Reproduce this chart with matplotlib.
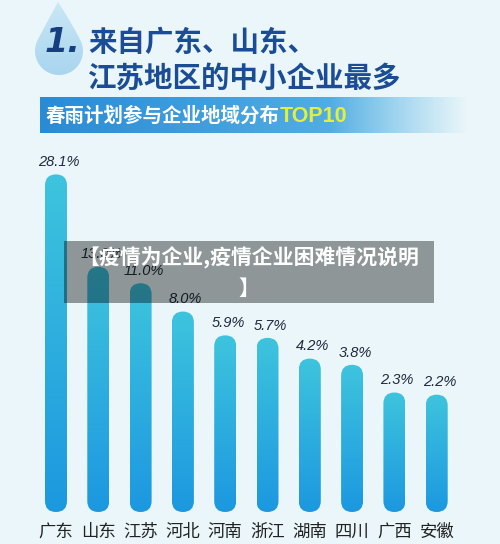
import numpy as np
import matplotlib
matplotlib.use("Agg")
import matplotlib.pyplot as plt
from matplotlib.patches import FancyBboxPatch, Rectangle, PathPatch
from matplotlib.path import Path
from matplotlib.colors import to_rgb

# ---------------- data ----------------
provinces = ["广东", "山东", "江苏", "河北", "河南", "浙江", "湖南", "四川", "广西", "安徽"]
shares = [28.1, 13.0, 11.0, 8.0, 5.9, 5.7, 4.2, 3.8, 2.3, 2.2]
value_labels = ["28.1%", "13.0%", "11.0%", "8.0%", "5.9%", "5.7%", "4.2%", "3.8%", "2.3%", "2.2%"]
title_number = "1."
title_lines = ["来自广东、山东、", "江苏地区的中小企业最多"]
subtitle = "春雨计划参与企业地域分布"
subtitle_tag = "TOP10"
overlay_text = "【疫情为企业,疫情企业困难情况说明\n】"

CJK = ["Noto Sans CJK SC", "DejaVu Sans"]
W, H = 500, 544
BG = "#eaf6f9"

fig = plt.figure(figsize=(W / 100, H / 100), dpi=100)
fig.patch.set_facecolor(BG)

# pixel canvas (1 unit = 1 px, y downward)
pax = fig.add_axes([0, 0, 1, 1])
pax.set_zorder(0)
pax.axis("off")

def lerp_colors(c1, c2, n):
    a, b = np.array(to_rgb(c1)), np.array(to_rgb(c2))
    t = np.linspace(0, 1, n)[:, None]
    return a * (1 - t) + b * t

# ---- water drop ----
cx, cy, r = 59, 51, 24
apex = (58, 2)
ang = np.deg2rad(np.linspace(-29, 209, 80))  # arc around bottom (y down)
arc = np.column_stack([cx + r * np.cos(ang), cy + r * np.sin(ang)])
def qbez(p0, p1, p2, n=30):
    t = np.linspace(0, 1, n)[:, None]
    return (1 - t) ** 2 * np.array(p0) + 2 * (1 - t) * t * np.array(p1) + t ** 2 * np.array(p2)
side_r = qbez(apex, (71, 22), arc[0])
side_l = qbez(arc[-1], (47, 22), apex)
drop_pts = np.vstack([side_r, arc, side_l])
drop = PathPatch(Path(drop_pts), facecolor="none", edgecolor="none")
pax.add_patch(drop)
grad = lerp_colors("#cbe8f6", "#a6d4ee", 64)[:, None, :]
im = pax.imshow(grad, extent=[30, 90, 80, 0], aspect="auto", zorder=1)
im.set_clip_path(drop)

pax.text(62, 43, title_number, fontsize=24, fontweight="bold", fontstyle="italic",
         color="#163f82", ha="center", va="center", family="DejaVu Sans", zorder=3)

# ---- title ----
pax.text(88, 43, title_lines[0], fontsize=20.5, fontweight="bold", color="#1b4d96",
         ha="left", va="center", family=CJK, zorder=3)
pax.text(88, 79, title_lines[1], fontsize=20.5, fontweight="bold", color="#1b4d96",
         ha="left", va="center", family=CJK, zorder=3)

# ---- banner ----
nx = 300
cols = lerp_colors("#2a8bd5", "#63bdea", nx)
xs = np.linspace(40, 468, nx)
alpha = np.clip((468 - xs) / (468 - 330), 0, 1)
banner = np.dstack([cols[None, :, 0], cols[None, :, 1], cols[None, :, 2], alpha[None, :]])
pax.imshow(banner, extent=[40, 468, 133, 97], aspect="auto", zorder=1)
t1 = pax.text(46, 116, subtitle, fontsize=14, fontweight="bold", color="white",
              ha="left", va="center", family=CJK, zorder=3)
pax.annotate(subtitle_tag, xy=(1, 0.5), xycoords=t1, ha="left", va="center",
             fontsize=15.5, fontweight="bold", color="#e4ef3c", family="Liberation Sans", zorder=3)

# ---------------- bar axes ----------------
P = 0.415
def fwd(v):
    v = np.asarray(v, dtype=float)
    return np.sign(v) * np.abs(v) ** P
def inv(u):
    u = np.asarray(u, dtype=float)
    return np.sign(u) * np.abs(u) ** (1 / P)

step = 42.3
ax = fig.add_axes([0, 32 / H, 1, 372 / H])
ax.set_zorder(1)
ax.patch.set_alpha(0)
ax.set_yscale("function", functions=(fwd, inv))
ax.set_xlim(-56 / step, (W - 56) / step)
ax.set_ylim(0, 35.5)
for s in ax.spines.values():
    s.set_visible(False)
ax.set_yticks([])
ax.set_xticks(range(len(provinces)))
ax.set_xticklabels(provinces, fontsize=12.5, color="#222222", family=CJK)
ax.tick_params(axis="x", length=0, pad=8)

pax.set_xlim(0, W)
pax.set_ylim(H, 0)

to_px = lambda pt: pax.transData.inverted().transform(ax.transData.transform(pt))
bw = 0.52
for i, v in enumerate(shares):
    (x0, ytop) = to_px((i - bw / 2, v))
    (x1, ybot) = to_px((i + bw / 2, 0))
    w = x1 - x0
    pill = FancyBboxPatch((x0, ytop), w, ybot - ytop,
                          boxstyle=f"round,pad=0,rounding_size={w / 2}",
                          facecolor="none", edgecolor="none")
    pax.add_patch(pill)
    g = lerp_colors("#3ec4dd", "#1c98e0", 128)[:, None, :]
    gim = pax.imshow(g, extent=[x0, x1, ybot, ytop], aspect="auto", zorder=2)
    gim.set_clip_path(pill)
    ax.annotate(value_labels[i], (i, v), xytext=(2, 6), textcoords="offset points",
                ha="center", va="baseline", fontsize=10.5, fontstyle="italic",
                color="#1f2b3d", family="Liberation Sans")

pax.set_xlim(0, W)
pax.set_ylim(H, 0)

# ---------------- overlay caption ----------------
tax = fig.add_axes([0, 0, 1, 1])
tax.set_zorder(5)
tax.patch.set_alpha(0)
tax.axis("off")
tax.set_xlim(0, W)
tax.set_ylim(H, 0)
tax.add_patch(Rectangle((64, 241), 370, 62, facecolor="black", alpha=0.39, edgecolor="none"))
tax.text(249, 273, overlay_text, fontsize=15, fontweight="bold", color="white",
         ha="center", va="center", multialignment="center", linespacing=1.5, family=CJK)

fig.savefig("out.png", dpi=100, facecolor=BG)
